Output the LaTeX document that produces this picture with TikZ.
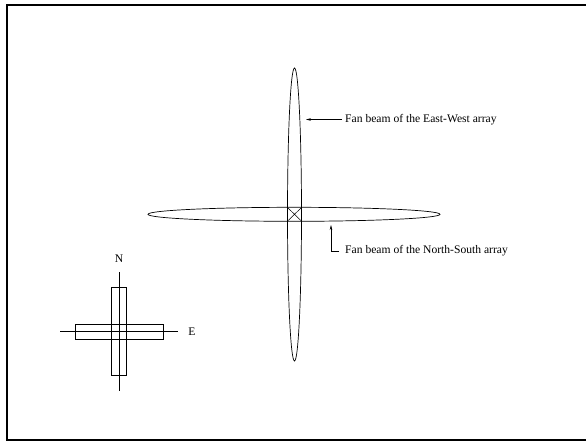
\documentclass[tikz,border=0pt]{standalone}
\usepackage{fontspec}
\setmainfont{Liberation Serif}
\usetikzlibrary{arrows.meta,calc,positioning,shapes.geometric}

\begin{document}
\begin{tikzpicture}[x=1pt, y=-1pt,
    beam/.style={draw, ellipse, inner sep=0pt, line width=0.7pt},
    arraybar/.style={draw, rectangle, inner sep=0pt, line width=0.7pt},
    beamtext/.style={anchor=west, inner sep=0pt, font=\fontsize{11.6}{13}\selectfont},
    axistext/.style={inner sep=0pt, font=\fontsize{11.6}{13}\selectfont},
    pointer/.style={-{Stealth[length=5pt, width=2.6pt]}, line width=0.6pt}
  ]
  \useasboundingbox (0,0) rectangle (586,441);
  \draw[line width=2pt] (7,5) rectangle (592,440);

  \node[beam, minimum width=14pt, minimum height=293pt] (ewbeam) at (294.5,214.5) {};
  \node[beam, minimum width=292pt, minimum height=14pt] (nsbeam) at (294,214.3) {};
  \coordinate (xa) at (287.3,207.3);
  \coordinate (xb) at (301.7,207.3);
  \coordinate (xc) at (287.3,221.3);
  \coordinate (xd) at (301.7,221.3);
  \draw[line width=0.5pt] (xa) -- (xd) (xb) -- (xc);

  \node[beamtext] (ewtext) at (345,119.5) {Fan beam of the East-West array};
  \coordinate (ewtip) at (306,119.5);
  \draw[pointer, shorten <=3pt] (ewtext.west) -- (ewtip);

  \node[beamtext] (nstext) at (345,251) {Fan beam of the North-South array};
  \coordinate (nstip) at (331,225);
  \draw[pointer, shorten <=6pt] (nstext.west) -| (nstip);

  \coordinate (centre) at (119,331.5);
  \node[arraybar, minimum width=15.4pt, minimum height=88pt] (nsarray) at (centre) {};
  \node[arraybar, minimum width=88pt, minimum height=15pt] (ewarray) at (centre) {};
  \node[axistext] (north) at (119,258.5) {N};
  \node[axistext] (east) at (192,331.5) {E};
  \draw[line width=0.5pt] (119,272.3) -- (119,390.7) (60,331.5) -- (177.7,331.5);
\end{tikzpicture}
\end{document}
